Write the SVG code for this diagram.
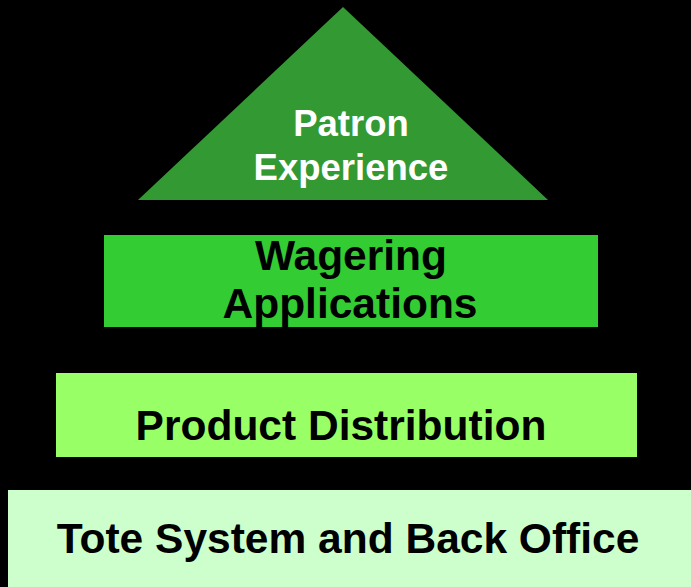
<svg xmlns="http://www.w3.org/2000/svg" width="691" height="587" viewBox="0 0 691 587">
<style>
.t{font-family:"Liberation Sans",Arial,sans-serif;font-weight:bold;text-anchor:middle}
</style>
<rect x="0" y="0" width="691" height="587" fill="#000000"/>
<g id="patron">
<polygon points="343,7 138,200 548,200" fill="#339933"/>
<text class="t" x="351" y="136" font-size="36.5" fill="#ffffff">Patron</text>
<text class="t" x="351" y="180" font-size="36.5" fill="#ffffff">Experience</text>
</g>
<g id="wagering">
<rect x="104" y="235" width="494" height="92" fill="#33CC33"/>
<text class="t" x="351" y="270" font-size="42.5" fill="#000000">Wagering</text>
<text class="t" x="350" y="318" font-size="42.5" fill="#000000">Applications</text>
</g>
<g id="distribution">
<rect x="56" y="373" width="581" height="84" fill="#99FF66"/>
<text class="t" x="341" y="440" font-size="42.5" fill="#000000">Product Distribution</text>
</g>
<g id="tote">
<rect x="8" y="490" width="683" height="97" fill="#CCFFCC"/>
<text class="t" x="348" y="553" font-size="42.5" fill="#000000">Tote System and Back Office</text>
</g>
<g id="connectors"></g>
</svg>
